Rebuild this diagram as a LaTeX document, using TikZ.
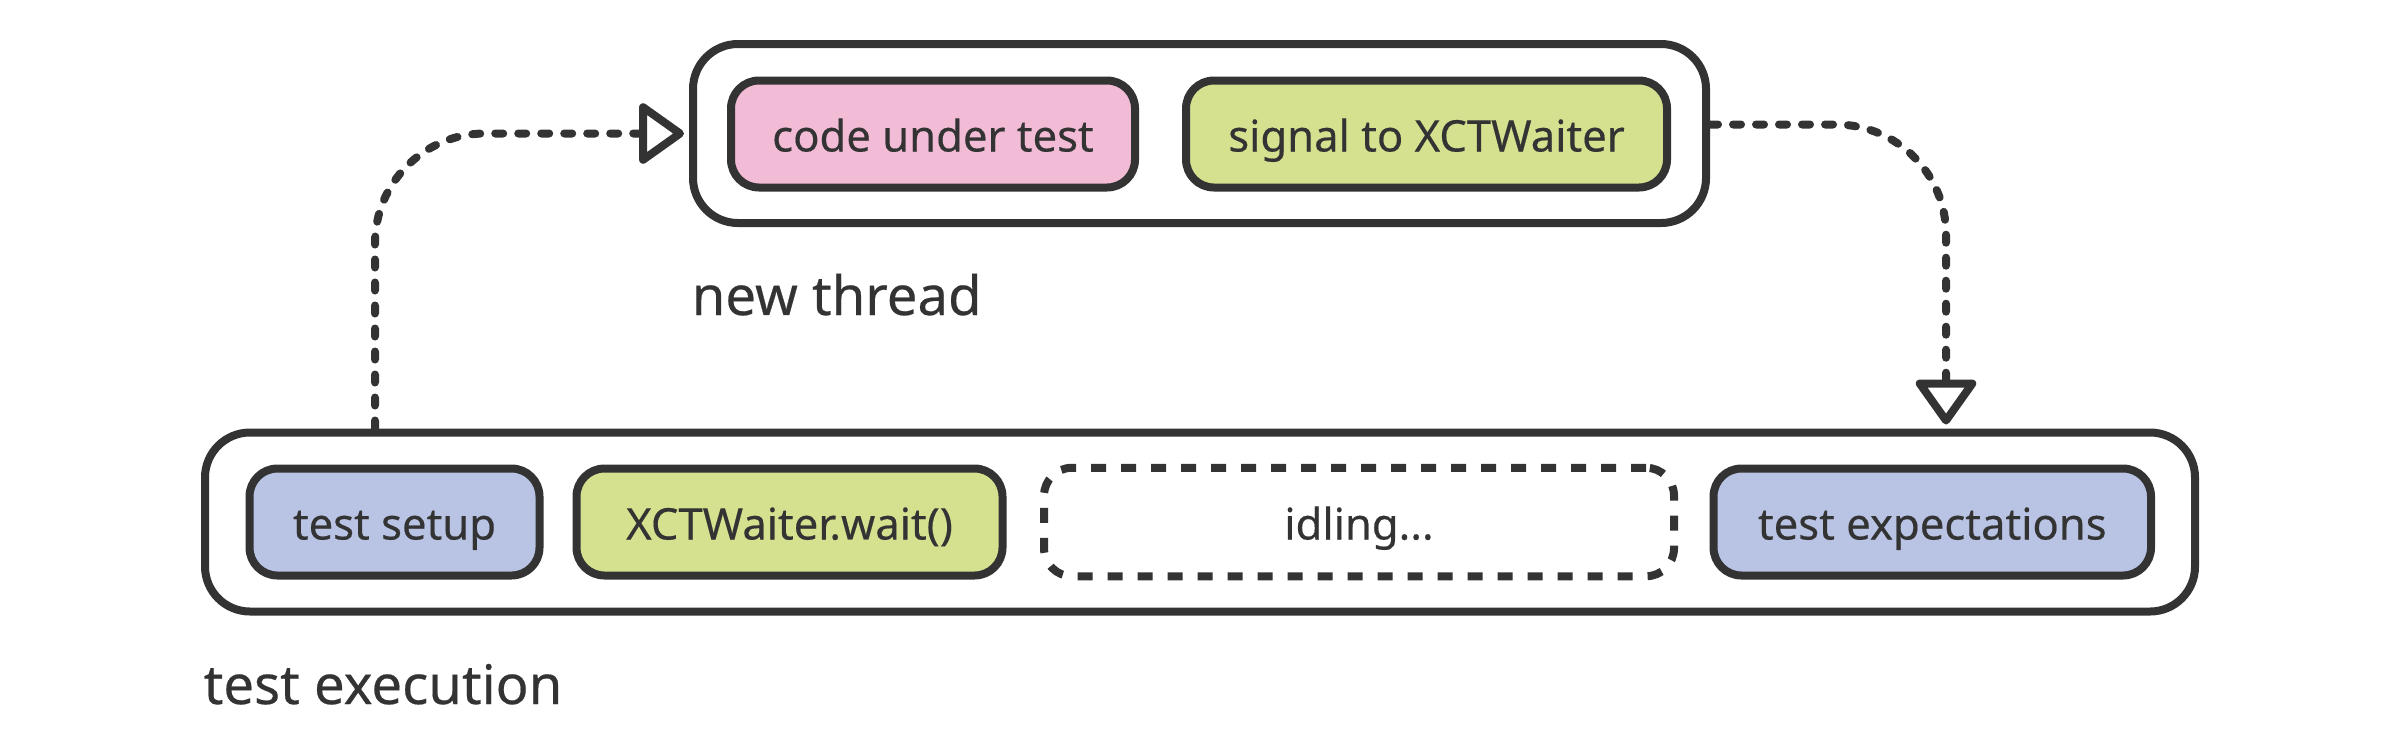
\documentclass[tikz,border=0pt]{standalone}
\usepackage{fontspec}
\setmainfont{Noto Sans}[FakeBold=0.35]
\usetikzlibrary{arrows.meta}
\definecolor{ink}{HTML}{333333}
\definecolor{pinkfill}{HTML}{F2BBD6}
\definecolor{greenfill}{HTML}{D6E18F}
\definecolor{bluefill}{HTML}{B9C4E4}

\begin{document}
\begin{tikzpicture}[
	lane/.style={draw=ink, line width=0.08cm, rounded corners=0.45cm, minimum height=1.79cm, inner sep=0pt},
	box/.style={draw=ink, line width=0.08cm, rounded corners=0.28cm, minimum height=1.07cm, inner sep=0pt,
		text=ink, font=\fontsize{12.4}{14}\selectfont, text height=0.35cm, text depth=0cm},
	idlebox/.style={box, dash pattern=on 0.15cm off 0.15cm},
	lanelabel/.style={text=ink, font=\fontsize{15.5}{18}\selectfont, anchor=base west, inner sep=0pt},
	flow/.style={draw=ink, line width=0.08cm, line cap=round, dash pattern=on 0.08cm off 0.15cm,
		rounded corners=1.1cm, -{Triangle[open, length=0.48cm, width=0.66cm, round]}}
]
	\useasboundingbox (0,0) rectangle (24,7.52);

	%new thread
	\node[lane, minimum width=10.13cm] (thread) at (11.995,6.185) {};
	\node[box, fill=pinkfill, minimum width=4.04cm] (code) at (9.33,6.18) {code under test};
	\node[box, fill=greenfill, minimum width=4.81cm] (signal) at (14.265,6.18) {signal to XCTWaiter};
	\node[lanelabel] (threadlabel) at (6.91,4.37) {new thread};

	%test execution
	\node[lane, minimum width=19.9cm] (exec) at (12,2.3) {};
	\node[box, fill=bluefill, minimum width=2.9cm] (setup) at (3.945,2.3) {test setup};
	\node[box, fill=greenfill, minimum width=4.26cm] (wait) at (7.895,2.3) {XCTWaiter.wait()};
	\node[idlebox, minimum width=6.3cm, minimum height=1.085cm] (idle) at (13.59,2.3) {idling...};
	\node[box, fill=bluefill, minimum width=4.375cm] (expect) at (19.3225,2.3) {test expectations};
	\node[lanelabel] (execlabel) at (2.03,0.48) {test execution};

	%flow
	\coordinate (fork) at (3.75,0 |- exec.north);
	\coordinate (join) at (19.46,0 |- exec.north);
	\draw[flow, shorten >=0.05cm] (fork) |- (thread.west);
	\draw[flow, shorten >=0.04cm] ([yshift=0.09cm]thread.east) -| (join);
\end{tikzpicture}
\end{document}
